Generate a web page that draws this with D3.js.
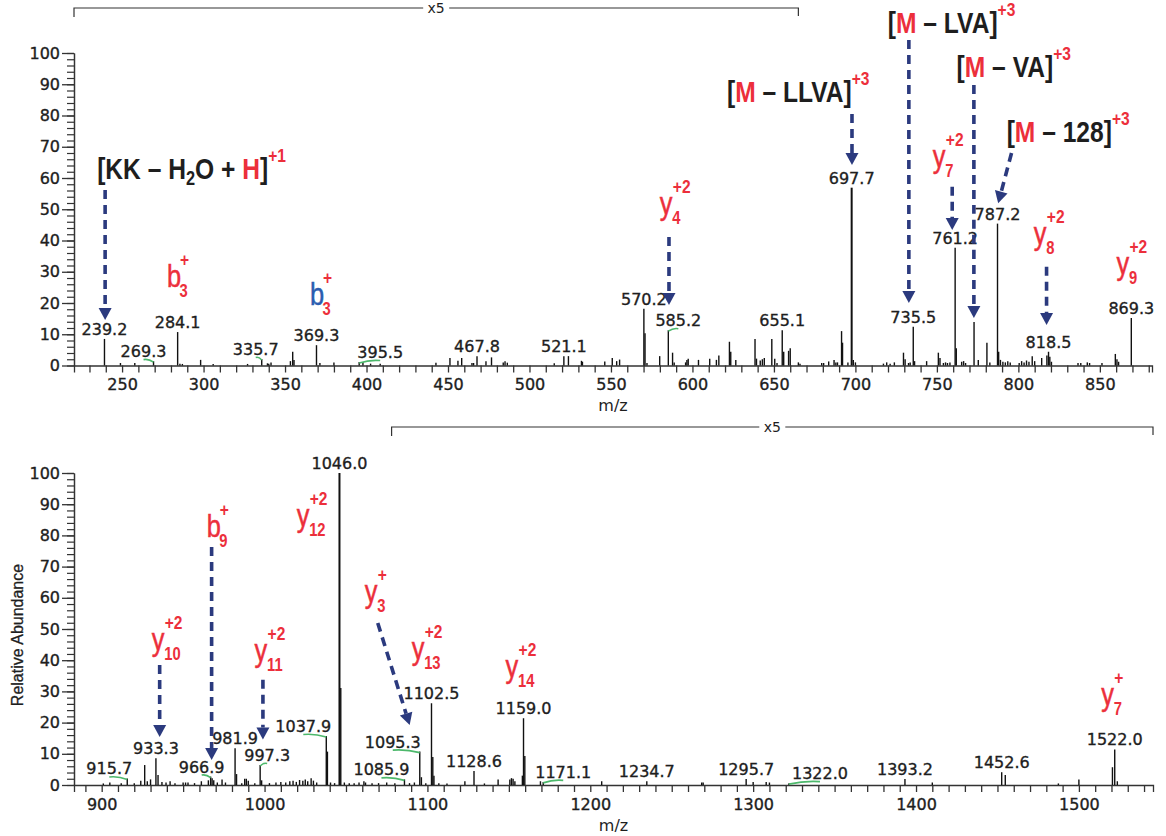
<!DOCTYPE html>
<html>
<head>
<meta charset="utf-8">
<script src="https://cdn.jsdelivr.net/npm/d3@7"></script>
<style>
  body { margin: 0; background: #fff; }
</style>
</head>
<body>
<svg id="chart" width="1166" height="836"></svg>
<script>
// ---- data (abundance as plotted, x5 zoom region already applied) ----
const topMz = [239.2, 249.0, 257.8, 269.3, 284.1, 285.5, 287.0, 298.2, 305.9, 327.0, 335.7, 339.2, 340.0, 341.4,
  353.3, 354.7, 355.5, 369.3, 371.4, 380.0, 395.5, 397.8, 402.5, 408.4, 442.6, 451.2, 456.1, 458.4, 464.7,
  465.7, 467.8, 473.3, 476.7, 483.9, 485.0, 486.4, 515.2, 521.1, 523.9, 531.9, 532.5, 546.2, 550.8, 553.5,
  555.3, 570.2, 570.9, 572.1, 579.9, 585.2, 587.8, 588.8, 595.8, 596.6, 597.4, 603.7, 610.6, 614.7, 616.2,
  622.7, 623.5, 626.6, 638.4, 639.3, 641.6, 642.9, 644.1, 648.7, 650.5, 651.9, 655.1, 656.0, 659.0, 660.0,
  665.0, 666.0, 679.3, 680.5, 683.6, 686.9, 688.0, 689.0, 691.5, 692.1, 695.4, 697.7, 698.7, 700.0, 717.2,
  719.2, 721.3, 723.9, 729.5, 730.5, 732.6, 733.6, 735.5, 736.3, 743.7, 750.9, 751.9, 754.0, 755.3, 756.5,
  758.0, 761.2, 761.9, 765.2, 766.4, 767.6, 772.8, 775.4, 780.7, 782.5, 787.2, 787.9, 789.0, 790.5, 792.0,
  793.5, 795.0, 800.5, 802.0, 803.5, 805.0, 806.5, 808.5, 810.0, 814.3, 817.5, 818.5, 819.3, 820.3, 836.6,
  838.3, 842.3, 843.7, 851.3, 859.5, 860.5, 861.5, 869.3];
const topAbundance = [8.5, 0.8, 0.8, 1.4, 10.7, 0.6, 0.5, 1.8, 0.5, 0.5, 2.1, 0.7, 0.6, 1.0,
  1.4, 4.4, 1.8, 6.5, 0.8, 1.0, 1.1, 1.1, 0.6, 0.6, 0.9, 2.4, 1.5, 2.4, 0.8,
  0.8, 3.0, 1.4, 2.6, 1.0, 1.4, 0.9, 0.7, 3.0, 3.0, 1.5, 1.2, 1.3, 2.4, 1.4,
  1.9, 18.2, 10.3, 0.8, 3.0, 11.3, 4.1, 1.0, 1.0, 1.8, 2.2, 1.8, 2.2, 1.8, 3.2,
  7.6, 4.4, 1.8, 8.5, 2.2, 1.6, 2.0, 2.4, 8.5, 2.2, 0.8, 11.3, 4.4, 4.7, 5.5,
  1.0, 0.6, 0.8, 0.8, 1.3, 1.8, 1.0, 1.0, 11.0, 7.3, 1.0, 56.9, 1.8, 1.0, 0.6,
  1.0, 0.6, 1.0, 4.1, 2.0, 0.8, 1.0, 12.4, 1.4, 1.4, 4.1, 2.4, 0.8, 1.0, 0.8,
  1.0, 37.7, 5.5, 1.2, 1.4, 0.8, 13.9, 1.8, 7.3, 1.0, 45.4, 4.4, 1.8, 1.2, 1.0,
  1.4, 1.0, 0.8, 1.4, 1.0, 1.6, 1.2, 3.0, 1.4, 2.4, 3.2, 4.4, 2.8, 1.2, 0.8,
  0.8, 1.0, 0.8, 0.8, 3.7, 2.0, 1.2, 15.2];

const bottomMz = [901.0, 905.0, 912.0, 915.7, 920.0, 924.0, 926.4, 928.0, 930.0, 933.3, 934.6, 937.0, 939.5,
  942.0, 945.0, 950.0, 951.5, 953.0, 957.0, 961.2, 965.5, 966.9, 967.8, 968.8, 971.0, 973.9, 976.0, 981.9,
  982.8, 986.0, 987.8, 988.8, 990.0, 994.0, 997.3, 998.2, 1003.0, 1007.0, 1010.0, 1013.0, 1015.5, 1017.5,
  1019.5, 1021.5, 1023.5, 1025.0, 1026.5, 1028.6, 1030.0, 1032.0, 1037.9, 1038.6, 1040.5, 1043.0, 1046.0,
  1046.8, 1049.0, 1052.0, 1055.0, 1058.0, 1061.0, 1062.0, 1066.0, 1070.0, 1075.0, 1080.0, 1085.9, 1089.0,
  1092.0, 1095.3, 1096.3, 1099.0, 1102.5, 1103.3, 1104.0, 1107.0, 1112.0, 1123.0, 1128.6, 1135.0, 1143.4,
  1150.6, 1151.6, 1152.6, 1153.7, 1158.3, 1159.0, 1159.8, 1169.4, 1171.1, 1207.0, 1234.7, 1268.4, 1269.3,
  1295.7, 1300.0, 1308.0, 1310.0, 1322.0, 1393.2, 1410.0, 1452.6, 1454.8, 1487.4, 1500.0, 1520.6, 1522.0,
  1523.6];
const bottomAbundance = [0.5, 0.8, 0.6, 2.1, 0.6, 1.4, 6.4, 1.2, 1.8, 8.6, 3.2, 1.0, 0.8,
  1.2, 0.6, 0.8, 0.8, 0.8, 0.6, 1.2, 1.5, 2.7, 2.2, 1.5, 0.8, 1.8, 0.8, 11.8,
  3.5, 0.6, 2.0, 2.0, 1.4, 0.6, 6.4, 1.5, 0.6, 0.8, 1.0, 0.8, 1.2, 1.4,
  1.0, 1.6, 1.4, 1.8, 1.2, 2.2, 1.4, 0.8, 15.7, 10.7, 0.8, 0.6, 100,
  31.1, 0.8, 0.6, 0.6, 0.8, 1.2, 0.8, 0.6, 0.6, 0.8, 0.6, 1.8, 0.6,
  0.8, 10.7, 2.5, 0.6, 26.2, 9.0, 3.0, 0.6, 0.5, 1.2, 4.5, 0.5, 1.8,
  1.8, 2.2, 2.0, 1.2, 3.0, 21.4, 9.3, 1.2, 1.0, 1.2, 1.2, 0.8, 0.8,
  1.9, 1.0, 1.0, 0.8, 0.6, 1.9, 0.8, 4.1, 3.2, 0.5, 1.8, 5.7, 11.4,
  1.2];

const topLabelMz = [239.2, 269.3, 284.1, 335.7, 369.3, 395.5, 467.8, 521.1, 570.2, 585.2, 655.1, 697.7,
  735.5, 761.2, 787.2, 818.5, 869.3];
const bottomLabelMz = [915.7, 933.3, 966.9, 981.9, 997.3, 1037.9, 1046.0, 1085.9, 1095.3, 1102.5, 1128.6,
  1159.0, 1171.1, 1234.7, 1295.7, 1322.0, 1393.2, 1452.6, 1522.0];

const topTickLabels = [250, 300, 350, 400, 450, 500, 550, 600, 650, 700, 750, 800, 850];
const bottomTickLabels = [900, 1000, 1100, 1200, 1300, 1400, 1500];
const yTickLabels = [0, 10, 20, 30, 40, 50, 60, 70, 80, 90, 100];

// ---- layout ----
const RED = "#ec2f3b", BLUE = "#2a5db0", NAVY = "#2b3a7e", INK = "#1e1e1e", GREEN = "#4cb86b";
const NUM_FONT = "'DejaVu Sans', sans-serif";
const ARIAL = "'Liberation Sans', Arial, sans-serif";
const NARROW = 0.82;

// label shifts (px) for labels that are pulled off their peak with a green leader
const labelShift = {"269.3": -10, "335.7": -6, "395.5": 21, "585.2": 10, "915.7": -18, "966.9": -9,
  "997.3": 7, "1037.9": -23, "1085.9": -23, "1095.3": -27, "1171.1": 20, "1322.0": 31};

const panels = [
  { mz: topMz, ab: topAbundance, labels: topLabelMz, ticks: topTickLabels, tickStart: 230,
    domain: [220.5, 882], left: 74, right: 1152, y0: 365.5, y100: 53, bracket: [220.5, 665], bracketY: 8,
    xTitleY: 411, yTitle: false },
  { mz: bottomMz, ab: bottomAbundance, labels: bottomLabelMz, ticks: bottomTickLabels, tickStart: 890,
    domain: [883, 1545.5], left: 74, right: 1153, y0: 785, y100: 473, bracket: [1078, 1545.5], bracketY: 427,
    xTitleY: 831, yTitle: true }
];

const svg = d3.select("#chart");
const fmt = d3.format(".1f");

function arrow(g, x1, y1, x2, y2) {
  const ang = Math.atan2(y2 - y1, x2 - x1);
  const head = 12, half = 6.5;
  const bx = x2 - head * Math.cos(ang), by = y2 - head * Math.sin(ang);
  g.append("line").attr("x1", x1).attr("y1", y1).attr("x2", bx).attr("y2", by)
    .attr("stroke", NAVY).attr("stroke-width", 3.6).attr("stroke-dasharray", "9,6");
  const px = -Math.sin(ang), py = Math.cos(ang);
  g.append("path")
    .attr("d", `M${x2},${y2}L${bx + px * half},${by + py * half}L${bx - px * half},${by - py * half}Z`)
    .attr("fill", NAVY);
}

function richText(g, x, y, parts) {
  const t = g.append("text")
    .attr("transform", `translate(${x},${y}) scale(${NARROW},1)`)
    .attr("font-family", ARIAL).attr("font-weight", "bold");
  parts.forEach(p => {
    t.append("tspan").attr("dy", p.dy || 0).attr("font-size", p.size || 30)
      .attr("fill", p.fill || INK).text(p.t);
  });
}

function ionTag(g, x, y, letter, sub, sup, letterColor) {
  g.append("text").attr("transform", `translate(${x},${y}) scale(${NARROW},1)`)
    .attr("font-family", ARIAL).attr("font-size", 31).attr("fill", letterColor || RED)
    .attr("stroke", letterColor || RED).attr("stroke-width", 0.5).text(letter);
  g.append("text").attr("transform", `translate(${x + 12.5},${y + 10}) scale(${NARROW},1)`)
    .attr("font-family", ARIAL).attr("font-weight", "bold").attr("font-size", 18).attr("fill", RED).text(sub);
  g.append("text").attr("transform", `translate(${x + 13},${y - 21}) scale(${NARROW},1)`)
    .attr("font-family", ARIAL).attr("font-weight", "bold").attr("font-size", 19).attr("fill", RED).text(sup);
}

panels.forEach((p, pi) => {
  const x = d3.scaleLinear().domain(p.domain).range([p.left, p.right]);
  const y = d3.scaleLinear().domain([0, 100]).range([p.y0, p.y100]);
  p.x = x; p.y = y;
  const g = svg.append("g");

  // x axis
  const xTicks = d3.range(p.tickStart, p.domain[1], 10);
  const xAxis = g.append("g").attr("transform", `translate(0,${p.y0})`)
    .call(d3.axisBottom(x).tickValues(xTicks).tickSize(7).tickSizeOuter(7).tickPadding(6.6)
      .tickFormat(d => p.ticks.includes(Math.round(d)) ? d : ""));
  xAxis.selectAll("path,line").attr("stroke", "#333").attr("stroke-width", 1.3);
  xAxis.selectAll("text").attr("font-family", NUM_FONT).attr("font-size", 16).attr("fill", INK)
    .attr("stroke", INK).attr("stroke-width", 0.35);

  // y axis: minor every 2, major with labels
  const yMinor = g.append("g").attr("transform", `translate(${p.left},0)`)
    .call(d3.axisLeft(y).tickValues(d3.range(0, 101, 2)).tickSize(7).tickSizeOuter(0).tickFormat(""));
  yMinor.selectAll("path,line").attr("stroke", "#333").attr("stroke-width", 1.2);
  const yMajor = g.append("g").attr("transform", `translate(${p.left},0)`)
    .call(d3.axisLeft(y).tickValues(yTickLabels).tickSize(12).tickSizeOuter(0).tickPadding(2));
  yMajor.selectAll("path,line").attr("stroke", "#333").attr("stroke-width", 1.3);
  yMajor.selectAll("text").attr("font-family", NUM_FONT).attr("font-size", 16).attr("fill", INK)
    .attr("stroke", INK).attr("stroke-width", 0.35);

  // peaks
  g.append("g").selectAll("line").data(p.mz).join("line")
    .attr("x1", d => x(d)).attr("x2", d => x(d))
    .attr("y1", y(0)).attr("y2", (d, i) => y(p.ab[i]))
    .attr("stroke", "#111").attr("stroke-width", (d, i) => p.ab[i] > 50 ? 2 : 1.4);

  // peak labels
  p.labels.forEach(lm => {
    const i = d3.leastIndex(p.mz, m => Math.abs(m - lm));
    const px = x(p.mz[i]), top = y(p.ab[i]);
    const key = fmt(lm);
    const shift = labelShift[key] || 0;
    const base = top - 4;
    g.append("text").attr("x", px + shift).attr("y", base).attr("text-anchor", "middle")
      .attr("font-family", NUM_FONT).attr("font-size", 16).attr("fill", INK)
      .attr("stroke", INK).attr("stroke-width", 0.35).text(key);
    if (shift) {
      const sx = px + shift, sy = base + 2.5;
      g.append("path")
        .attr("d", `M${sx},${sy}Q${(sx + px) / 2},${sy - 1} ${px},${top + 1}`)
        .attr("fill", "none").attr("stroke", GREEN).attr("stroke-width", 1.6);
    }
  });

  // x5 bracket
  const bx1 = x(p.bracket[0]), bx2 = x(p.bracket[1]), by = p.bracketY, mid = (bx1 + bx2) / 2;
  g.append("path")
    .attr("d", `M${bx1},${by + 9}V${by}H${mid - 13}M${mid + 13},${by}H${bx2}V${by + 8}`)
    .attr("fill", "none").attr("stroke", "#333").attr("stroke-width", 1.2);
  g.append("text").attr("x", mid).attr("y", by + 5).attr("text-anchor", "middle")
    .attr("font-family", NUM_FONT).attr("font-size", 14).attr("fill", INK).text("x5");

  // axis titles
  g.append("text").attr("x", (p.left + p.right) / 2).attr("y", p.xTitleY).attr("text-anchor", "middle")
    .attr("font-family", NUM_FONT).attr("font-size", 16).attr("fill", INK).text("m/z");
  if (p.yTitle) {
    g.append("text").attr("transform", `translate(23,${(p.y0 + p.y100) / 2 + 6}) rotate(-90)`)
      .attr("text-anchor", "middle").attr("font-family", ARIAL).attr("font-size", 16)
      .attr("fill", INK).attr("stroke", INK).attr("stroke-width", 0.3).text("Relative Abundance");
  }
  p.g = g;
});

// ---- annotations (positions in m/z, abundance units) ----
const T = panels[0], B = panels[1];
const ann = T.g.append("g"), annB = B.g.append("g");

// arrows: [x1, y1, x2, y2]
const topArrows = [[239.6, 56.2, 239.6, 14.6], [585.6, 41.1, 585.6, 19.4], [697.9, 80.5, 697.9, 64.2],
  [732.8, 104.2, 732.8, 20], [772.7, 89.8, 772.7, 15.2], [795.8, 68, 787.6, 51.9],
  [759.4, 57.2, 759.4, 43.4], [817.3, 31.6, 817.3, 13]];
const bottomArrows = [[967.5, 76.3, 967.5, 8.0], [935.6, 38.5, 935.6, 15.4], [999, 33.7, 999, 14.6],
  [1069.5, 51.9, 1089.1, 19.2]];
topArrows.forEach(a => arrow(ann, T.x(a[0]), T.y(a[1]), T.x(a[2]), T.y(a[3])));
bottomArrows.forEach(a => arrow(annB, B.x(a[0]), B.y(a[1]), B.x(a[2]), B.y(a[3])));

// bracketed neutral-loss labels
richText(ann, T.x(234.7), T.y(59.8), [
  {t: "[KK – H"}, {t: "2", size: 20, dy: 6}, {t: "O + ", dy: -6}, {t: "H", fill: RED}, {t: "]"},
  {t: "+1", fill: RED, size: 19, dy: -17}]);
richText(ann, T.x(621.2), T.y(84.3), [
  {t: "["}, {t: "M", fill: RED}, {t: " – LLVA]"}, {t: "+3", fill: RED, size: 19, dy: -17}]);
richText(ann, T.x(719.9), T.y(106.3), [
  {t: "["}, {t: "M", fill: RED}, {t: " – LVA]"}, {t: "+3", fill: RED, size: 19, dy: -17}]);
richText(ann, T.x(762.1), T.y(92.4), [
  {t: "["}, {t: "M", fill: RED}, {t: " – VA]"}, {t: "+3", fill: RED, size: 19, dy: -17}]);
richText(ann, T.x(792.8), T.y(71.6), [
  {t: "["}, {t: "M", fill: RED}, {t: " – 128]"}, {t: "+3", fill: RED, size: 19, dy: -17}]);

// fragment ion tags: [letter, sub, sup, mz, abundance, color]
const topIons = [["b", "3", "+", 277.6, 25.1, RED], ["b", "3", "+", 365.3, 19.4, BLUE],
  ["y", "4", "+2", 580, 48.5, RED], ["y", "7", "+2", 747.5, 63.5, RED],
  ["y", "8", "+2", 809.5, 38.9, RED], ["y", "9", "+2", 860.2, 29.3, RED]];
const bottomIons = [["y", "12", "+2", 1019.7, 83.0, RED], ["b", "9", "+", 964.5, 79.5, RED],
  ["y", "10", "+2", 930.7, 43.3, RED], ["y", "11", "+2", 993.9, 39.7, RED],
  ["y", "3", "+", 1061.5, 58.7, RED], ["y", "13", "+2", 1090.3, 40.4, RED],
  ["y", "14", "+2", 1148, 34.6, RED], ["y", "7", "+", 1513.8, 25.6, RED]];
topIons.forEach(d => ionTag(ann, T.x(d[3]), T.y(d[4]), d[0], d[1], d[2], d[5]));
bottomIons.forEach(d => ionTag(annB, B.x(d[3]), B.y(d[4]), d[0], d[1], d[2], d[5]));
</script>
</body>
</html>
